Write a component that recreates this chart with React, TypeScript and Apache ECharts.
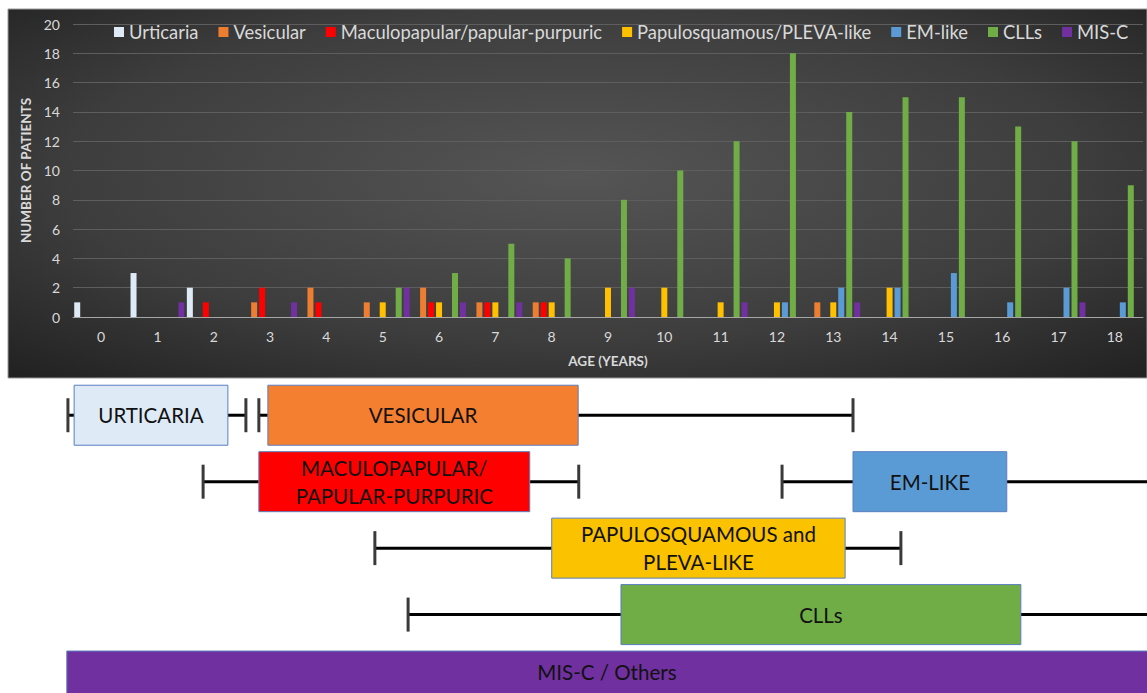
import React, { useEffect, useRef } from "react";
import * as echarts from "echarts";

// ---------- Upper chart data ----------
const ages = ["0", "1", "2", "3", "4", "5", "6", "7", "8", "9", "10", "11", "12", "13", "14", "15", "16", "17", "18"];
const urticaria = [1, 3, 2, 0, 0, 0, 0, 0, 0, 0, 0, 0, 0, 0, 0, 0, 0, 0, 0];
const vesicular = [0, 0, 0, 1, 2, 1, 2, 1, 1, 0, 0, 0, 0, 1, 0, 0, 0, 0, 0];
const maculopapular = [0, 0, 1, 2, 1, 0, 1, 1, 1, 0, 0, 0, 0, 0, 0, 0, 0, 0, 0];
const papulosquamous = [0, 0, 0, 0, 0, 1, 1, 1, 1, 2, 2, 1, 1, 1, 2, 0, 0, 0, 0];
const emLike = [0, 0, 0, 0, 0, 0, 0, 0, 0, 0, 0, 0, 1, 2, 2, 3, 1, 2, 1];
const clls = [0, 0, 0, 0, 0, 2, 3, 5, 4, 8, 10, 12, 18, 14, 15, 15, 13, 12, 9];
const misC = [0, 1, 0, 1, 0, 2, 1, 1, 0, 2, 0, 1, 0, 1, 0, 0, 0, 1, 0];

const seriesNames = [
  "Urticaria",
  "Vesicular",
  "Maculopapular/papular-purpuric",
  "Papulosquamous/PLEVA-like",
  "EM-like",
  "CLLs",
  "MIS-C",
];
const seriesValues = [urticaria, vesicular, maculopapular, papulosquamous, emLike, clls, misC];
const seriesColors = ["#deebf7", "#ed7d31", "#ff0000", "#ffc000", "#5b9bd5", "#70ad47", "#7030a0"];

// ---------- Lower diagram data (age ranges, years) ----------
// Infinity = open-ended (continues past the right edge); null = none
const rangeLabels = [
  "URTICARIA",
  "VESICULAR",
  "MACULOPAPULAR/\nPAPULAR-PURPURIC",
  "EM-LIKE",
  "PAPULOSQUAMOUS and\nPLEVA-LIKE",
  "CLLs",
  "MIS-C / Others",
];
const rangeRows = [0, 0, 1, 1, 2, 3, 4];
const rangeWhiskerLow: (number | null)[] = [-0.59, 2.8, 1.81, 12.09, 4.86, 5.45, null];
const rangeBoxLow = [-0.48, 2.96, 2.8, 13.35, 8.0, 9.23, -0.61];
const rangeBoxHigh = [2.25, 8.47, 7.61, 16.08, 13.21, 16.33, Infinity];
const rangeWhiskerHigh: (number | null)[] = [2.57, 13.35, 8.48, Infinity, 14.2, Infinity, null];
const rangeColors = ["#deebf7", "#f47f30", "#ff0000", "#5b9bd5", "#fbc200", "#70ad47", "#7030a0"];

const FONT = "Lato, 'Open Sans', sans-serif";

export default function App() {
  const ref = useRef<HTMLDivElement>(null);

  useEffect(() => {
    if (!ref.current) return;
    const chart = echarts.init(ref.current, undefined, { renderer: "svg" });

    const renderRange = (params: any, api: any) => {
      const i = params.dataIndex;
      const cs = params.coordSys;
      const X = (v: number) => (v === Infinity ? cs.x + cs.width + 3 : api.coord([v, 0])[0]);
      const yc = api.coord([0, rangeRows[i]])[1];
      const halfBox = 30;
      const halfCap = 17;
      const children: any[] = [];
      const wl = rangeWhiskerLow[i];
      const wh = rangeWhiskerHigh[i];
      const bl = X(rangeBoxLow[i]);
      const bh = X(rangeBoxHigh[i]);
      const lineStyle = { stroke: "#000000", lineWidth: 3 };
      const capStyle = { stroke: "#3a3a3a", lineWidth: 3 };
      if (wl !== null) {
        const x = X(wl);
        children.push({ type: "line", shape: { x1: x, y1: yc, x2: bl, y2: yc }, style: lineStyle });
        children.push({ type: "line", shape: { x1: x, y1: yc - halfCap, x2: x, y2: yc + halfCap }, style: capStyle });
      }
      if (wh !== null) {
        const x = X(wh);
        children.push({ type: "line", shape: { x1: bh, y1: yc, x2: x, y2: yc }, style: lineStyle });
        if (wh !== Infinity) {
          children.push({ type: "line", shape: { x1: x, y1: yc - halfCap, x2: x, y2: yc + halfCap }, style: capStyle });
        }
      }
      const top = yc - halfBox;
      const bottom = yc + halfBox;
      children.push({
        type: "rect",
        shape: { x: bl, y: top, width: bh - bl, height: bottom - top },
        style: { fill: rangeColors[i], stroke: "#5a7fbf", lineWidth: 1 },
      });
      const visRight = Math.min(bh, cs.x + cs.width);
      const visBottom = Math.min(bottom, cs.y + cs.height);
      children.push({
        type: "text",
        style: {
          text: rangeLabels[i],
          x: (bl + visRight) / 2,
          y: (top + visBottom) / 2,
          align: "center",
          verticalAlign: "middle",
          fill: "#111111",
          font: `20.5px ${FONT}`,
          lineHeight: 28,
        },
      });
      return { type: "group", children };
    };

    const barSeries = seriesNames.map((name, k) => ({
      name,
      type: "bar",
      xAxisIndex: 0,
      yAxisIndex: 0,
      data: seriesValues[k],
      barWidth: 6,
      barGap: "33%",
      itemStyle: { color: seriesColors[k] },
    }));

    chart.setOption({
      animation: false,
      backgroundColor: "#ffffff",
      textStyle: { fontFamily: FONT },
      graphic: [
        {
          type: "rect",
          z: -10,
          silent: true,
          shape: { x: 8, y: 9, width: 1139, height: 369 },
          style: {
            fill: {
              type: "radial",
              x: 0.5,
              y: 0.45,
              r: 0.75,
              colorStops: [
                { offset: 0, color: "#555555" },
                { offset: 0.6, color: "#3d3d3d" },
                { offset: 1, color: "#202020" },
              ],
            } as any,
            stroke: "#9a9a9a",
            lineWidth: 1,
          },
        },
      ],
      legend: {
        data: seriesNames,
        left: 109,
        top: 18,
        icon: "rect",
        itemWidth: 10,
        itemHeight: 10,
        itemGap: 20,
        textStyle: { color: "#d9d9d9", fontSize: 18.4, fontFamily: FONT },
      },
      grid: [
        { left: 73, width: 1070, top: 24, height: 293 },
        { left: 73, right: 0, top: 382, bottom: 0 },
      ],
      xAxis: [
        {
          gridIndex: 0,
          type: "category",
          data: ages,
          axisLine: { lineStyle: { color: "#a6a6a6", width: 1 } },
          axisTick: { show: false },
          axisLabel: { color: "#d9d9d9", fontSize: 14, margin: 12 },
          name: "AGE (YEARS)",
          nameLocation: "middle",
          nameGap: 37,
          nameTextStyle: { color: "#d9d9d9", fontSize: 13.5, fontWeight: "bold" },
        },
        {
          gridIndex: 1,
          type: "value",
          min: -0.5,
          max: 18.57,
          show: false,
        },
      ],
      yAxis: [
        {
          gridIndex: 0,
          type: "value",
          min: 0,
          max: 20,
          interval: 2,
          axisLine: { show: false },
          axisTick: { show: false },
          splitLine: { lineStyle: { color: "#5e5e5e", width: 1 } },
          axisLabel: { color: "#d9d9d9", fontSize: 14, margin: 13 },
          name: "NUMBER OF PATIENTS",
          nameLocation: "middle",
          nameRotate: 90,
          nameGap: 36,
          nameTextStyle: { color: "#d9d9d9", fontSize: 13.5, fontWeight: "bold" },
        },
        {
          gridIndex: 1,
          type: "value",
          inverse: true,
          min: -0.5,
          max: 4.18,
          show: false,
        },
      ],
      series: [
        ...barSeries,
        {
          type: "custom",
          name: "ranges",
          xAxisIndex: 1,
          yAxisIndex: 1,
          renderItem: renderRange,
          data: rangeLabels.map((_, i) => [rangeBoxLow[i], rangeRows[i]]),
          encode: { x: 0, y: 1 },
          silent: true,
        },
      ],
    } as any);

    return () => chart.dispose();
  }, []);

  return (
    <div
      ref={ref}
      style={{ position: "fixed", left: 0, top: 0, width: 1147, height: 693 }}
    />
  );
}
